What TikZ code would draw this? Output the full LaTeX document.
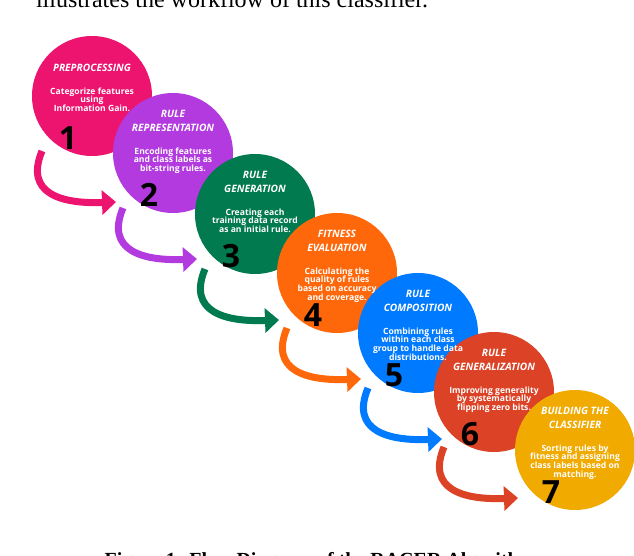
\documentclass[tikz,border=0pt]{standalone}
\usepackage{fontspec}
\setmainfont{Liberation Serif}
\newfontfamily\osans{Open Sans}
\usetikzlibrary{arrows.meta}
\definecolor{c1}{RGB}{236,20,110}
\definecolor{c2}{RGB}{178,58,222}
\definecolor{c3}{RGB}{0,122,78}
\definecolor{c4}{RGB}{255,104,10}
\definecolor{c5}{RGB}{0,122,255}
\definecolor{c6}{RGB}{220,66,38}
\definecolor{c7}{RGB}{240,170,0}
\tikzset{
 stepcircle/.style={circle,minimum size=120pt,inner sep=0pt},
 ttl/.style={text=white,font=\osans\bfseries\itshape\fontsize{10.2}{14}\selectfont,align=center},
 body/.style={text=white,font=\osans\bfseries\fontsize{8.6}{8.8}\selectfont,align=center},
 num/.style={text=black,font=\osans\bfseries\fontsize{32}{32}\selectfont},
 swoosh/.style={line width=7pt,-{Triangle[width=24pt,length=14pt]}},
}
\begin{document}
\begin{tikzpicture}[x=1pt,y=-1pt]
\useasboundingbox (0,0) rectangle (634,556);
\node[font=\fontsize{24}{24}\selectfont] (top) at (232,-1) {illustrates the workflow of this classifier.};
\node[font=\bfseries\fontsize{20}{20}\selectfont] (cap) at (320,562) {Figure 1: Flow Diagram of the RACER Algorithm};
\foreach \i/\x/\y in {1/92/96,2/173/153,3/255/214,4/337/273,5/418/333,6/494/392}
{
 \coordinate (s\i) at (\x-50,\y+55);
 \coordinate (e\i) at (\x+24,\y+106);
 \draw[c\i,swoosh] (s\i) .. controls (\x-68,\y+98) and (\x-30,\y+108) .. (e\i);
}
\foreach \i/\x/\y in {1/92/96,2/173/153,3/255/214,4/337/273,5/418/333,6/494/392,7/575/450}
 \node[stepcircle,fill=c\i] (c\i) at (\x,\y) {};
\foreach \i/\x/\y/\t/\b/\n in {
 1/92/96/{PREPROCESSING}/{Categorize features\\using\\Information Gain.}/0,
 2/173/153/{RULE\\REPRESENTATION}/{Encoding features\\and class labels as\\bit-string rules.}/1,
 3/255/214/{RULE\\GENERATION}/{Creating each\\training data record\\as an initial rule.}/1,
 4/337/273/{FITNESS\\EVALUATION}/{Calculating the\\quality of rules\\based on accuracy\\and coverage.}/1,
 5/418/333/{RULE\\COMPOSITION}/{Combining rules\\within each class\\group to handle data\\distributions.}/1,
 6/494/392/{RULE\\GENERALIZATION}/{Improving generality\\by systematically\\flipping zero bits.}/1,
 7/575/450/{BUILDING THE\\CLASSIFIER}/{Sorting rules by\\fitness and assigning\\class labels based on\\matching.}/1}
{
 \node[ttl] (t\i) at (\x,\y-28-\n*4) {\t};
 \node[body,anchor=north] (b\i) at (\x,\y-12+\n*3) {\b};
 \node[num] (n\i) at (\x-24,\y+42) {\i};
}
\end{tikzpicture}
\end{document}
